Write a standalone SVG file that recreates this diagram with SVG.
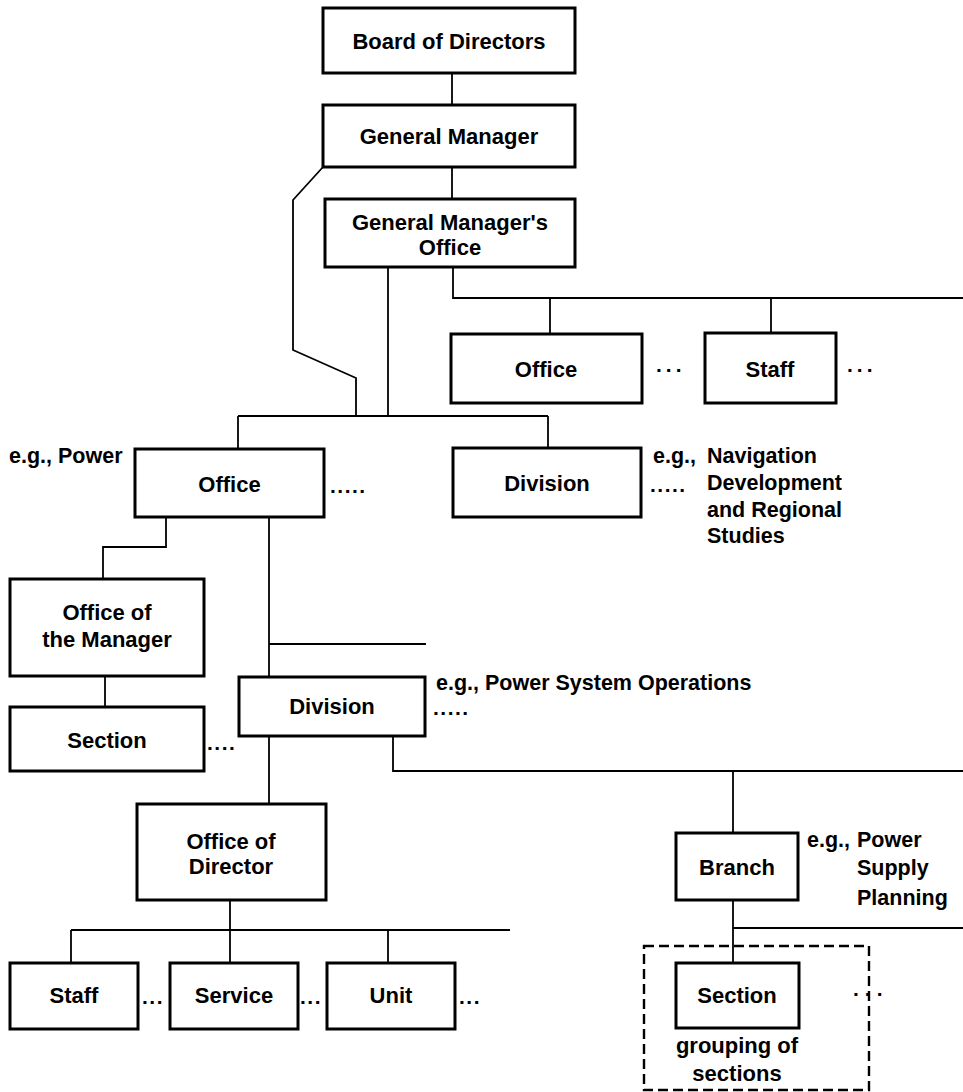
<svg xmlns="http://www.w3.org/2000/svg" width="963" height="1092" viewBox="0 0 963 1092">
<style>
.box{fill:#fff;stroke:#000;stroke-width:3}
.c{fill:none;stroke:#000;stroke-width:1.8}
.dash{fill:none;stroke:#000;stroke-width:2.4;stroke-dasharray:10 5}
text{font-family:"Liberation Sans",Arial,sans-serif;font-weight:bold;fill:#000}
.t{font-size:22px;text-anchor:middle}
.a{font-size:21.5px}
.d{font-size:21px;letter-spacing:1.5px}
.d3{font-size:21px;letter-spacing:4px}
</style>
<rect width="963" height="1092" fill="#fff"/>
<g id="connectors">
<path class="c" d="M452 73V105"/>
<path class="c" d="M452 167V199"/>
<path class="c" d="M323 167L293 200V350L356 378V416"/>
<path class="c" d="M388 267V416"/>
<path class="c" d="M238 416H548"/>
<path class="c" d="M238 416V449"/>
<path class="c" d="M548 416V448"/>
<path class="c" d="M453 267V298H963"/>
<path class="c" d="M550 298V334"/>
<path class="c" d="M771 298V333"/>
<path class="c" d="M166 517V547H103V579"/>
<path class="c" d="M105 676V707"/>
<path class="c" d="M269 517V677"/>
<path class="c" d="M269 644H426"/>
<path class="c" d="M269 736V804"/>
<path class="c" d="M393 736V771H963"/>
<path class="c" d="M733 771V833"/>
<path class="c" d="M733 900V963"/>
<path class="c" d="M733 928H963"/>
<path class="c" d="M230 900V963"/>
<path class="c" d="M71 930H510"/>
<path class="c" d="M71 930V963"/>
<path class="c" d="M388 930V963"/>
</g>
<g id="board">
<rect class="box" x="323" y="8" width="252" height="65"/>
<text class="t" x="449" y="49">Board of Directors</text>
</g>
<g id="general-manager">
<rect class="box" x="323" y="105" width="252" height="62"/>
<text class="t" x="449" y="144">General Manager</text>
</g>
<g id="gm-office">
<rect class="box" x="325" y="199" width="250" height="68"/>
<text class="t" x="450" y="230">General Manager's</text>
<text class="t" x="450" y="255">Office</text>
</g>
<g id="office-top">
<rect class="box" x="451" y="334" width="191" height="69"/>
<text class="t" x="546" y="377">Office</text>
<text class="d3" x="656" y="372">...</text>
</g>
<g id="staff-top">
<rect class="box" x="705" y="333" width="131" height="70"/>
<text class="t" x="770" y="377">Staff</text>
<text class="d3" x="847" y="372">...</text>
</g>
<g id="office-power">
<text class="a" x="9" y="463">e.g., Power</text>
<rect class="box" x="135" y="449" width="189" height="68"/>
<text class="t" x="229.5" y="492">Office</text>
<text class="d" x="330" y="493">.....</text>
</g>
<g id="division-nav">
<rect class="box" x="453" y="448" width="188" height="69"/>
<text class="t" x="547" y="491">Division</text>
<text class="a" x="653" y="463">e.g.,</text>
<text class="d" x="650" y="492">.....</text>
<text class="a" x="707" y="463">Navigation</text>
<text class="a" x="707" y="490">Development</text>
<text class="a" x="707" y="517">and Regional</text>
<text class="a" x="707" y="543">Studies</text>
</g>
<g id="office-manager">
<rect class="box" x="10" y="579" width="194" height="97"/>
<text class="t" x="107" y="620">Office of</text>
<text class="t" x="107" y="647">the Manager</text>
</g>
<g id="section-left">
<rect class="box" x="10" y="707" width="194" height="64"/>
<text class="t" x="107" y="748">Section</text>
<text class="d" x="207" y="750">....</text>
</g>
<g id="division-pso">
<rect class="box" x="239" y="677" width="186" height="59"/>
<text class="t" x="332" y="714">Division</text>
<text class="a" x="436" y="690">e.g., Power System Operations</text>
<text class="d" x="433" y="715">.....</text>
</g>
<g id="office-director">
<rect class="box" x="137" y="804" width="189" height="96"/>
<text class="t" x="231" y="849">Office of</text>
<text class="t" x="231" y="874">Director</text>
</g>
<g id="staff-bottom">
<rect class="box" x="10" y="963" width="128" height="66"/>
<text class="t" x="74" y="1003">Staff</text>
<text class="d" x="142" y="1004">...</text>
</g>
<g id="service">
<rect class="box" x="170" y="963" width="128" height="66"/>
<text class="t" x="234" y="1003">Service</text>
<text class="d" x="300" y="1004">...</text>
</g>
<g id="unit">
<rect class="box" x="327" y="963" width="128" height="66"/>
<text class="t" x="391" y="1003">Unit</text>
<text class="d" x="459" y="1004">...</text>
</g>
<g id="branch">
<rect class="box" x="676" y="833" width="122" height="67"/>
<text class="t" x="737" y="875">Branch</text>
<text class="a" x="807" y="847">e.g.,</text>
<text class="a" x="857" y="847">Power</text>
<text class="a" x="857" y="875">Supply</text>
<text class="a" x="857" y="905">Planning</text>
</g>
<g id="section-group">
<text class="d" x="853" y="996" style="letter-spacing:6px">...</text>
<rect class="dash" x="644" y="946" width="225" height="144"/>
<rect class="box" x="676" y="963" width="123" height="65"/>
<text class="t" x="737" y="1003">Section</text>
<text class="t" x="737" y="1053">grouping of</text>
<text class="t" x="737" y="1081">sections</text>
</g>
</svg>
